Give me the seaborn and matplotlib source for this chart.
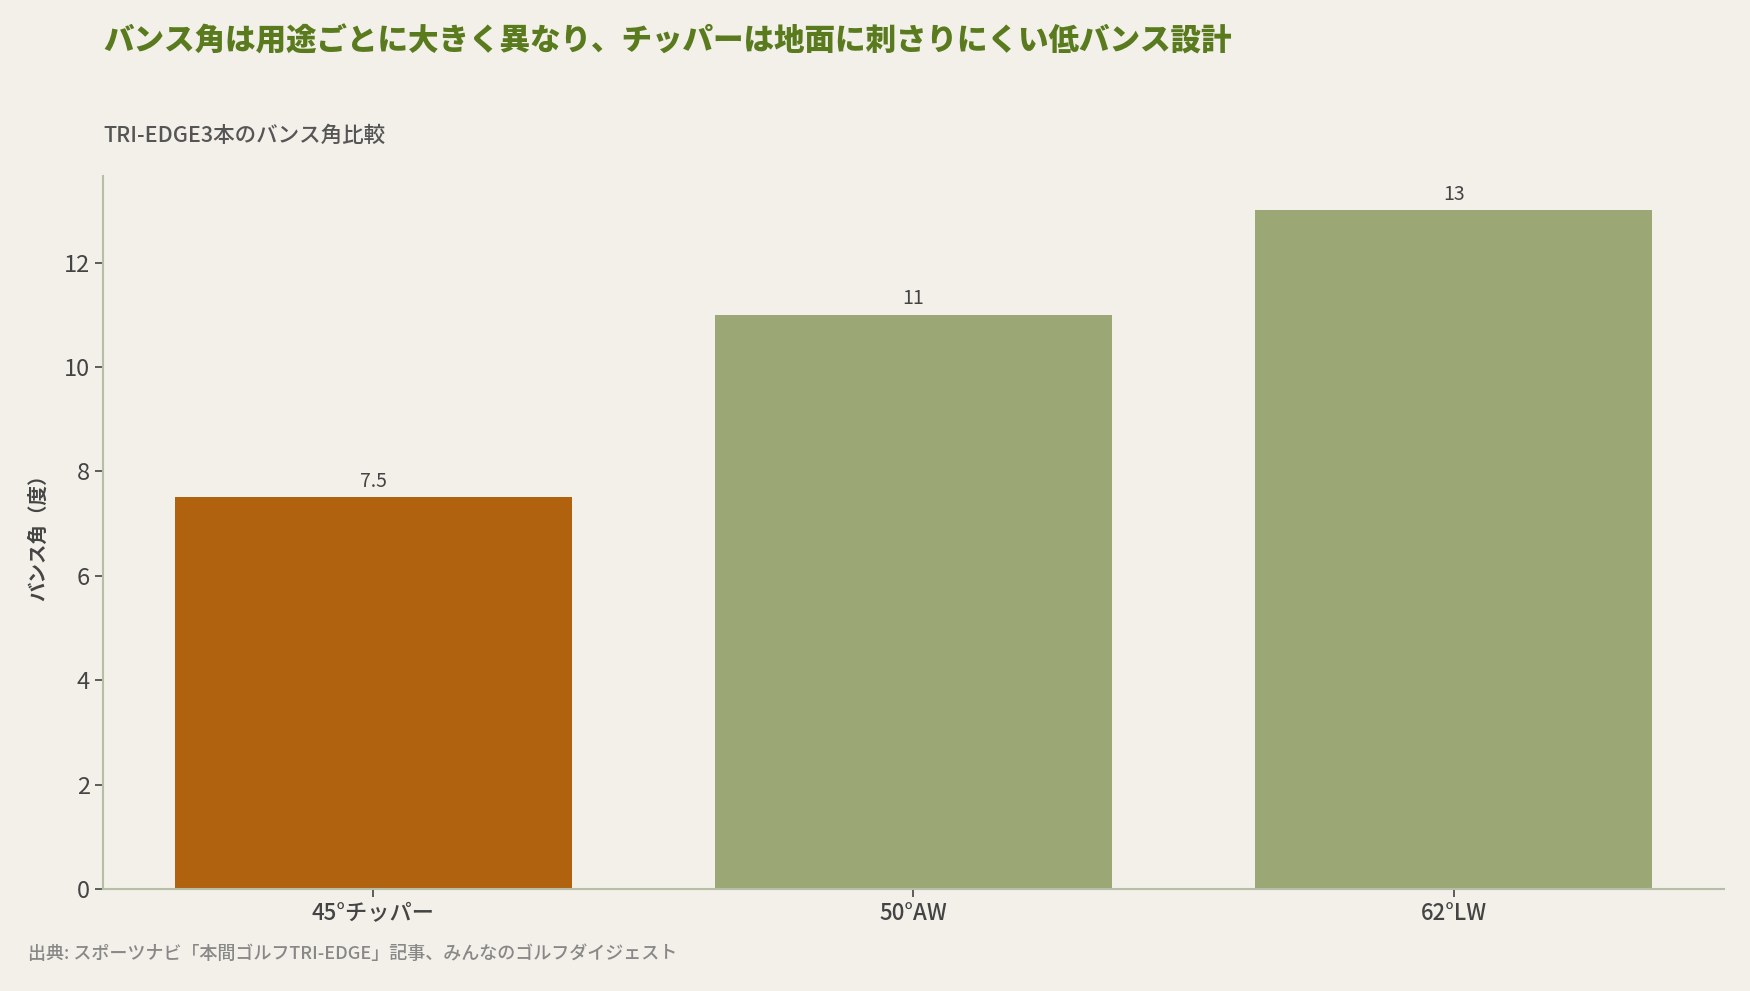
import pandas as pd
import matplotlib.pyplot as plt
import seaborn as sns

clubs = ["45°チッパー", "50°AW", "62°LW"]
bounce = [7.5, 11, 13]
bar_colors = ["#b0620f", "#9ba876", "#9ba876"]

title = "バンス角は用途ごとに大きく異なり、チッパーは地面に刺さりにくい低バンス設計"
subtitle = "TRI-EDGE3本のバンス角比較"
ylabel = "バンス角（度）"
source = "出典: スポーツナビ「本間ゴルフTRI-EDGE」記事、みんなのゴルフダイジェスト"

bg = "#f2f0e9"

sns.set_theme(style="white")
plt.rcParams['font.family'] = ['Noto Sans CJK JP', 'DejaVu Sans']

df = pd.DataFrame({"club": clubs, "bounce": bounce})

fig, ax = plt.subplots(figsize=(17.5, 9.91), dpi=100)
fig.patch.set_facecolor(bg)
ax.set_facecolor(bg)
fig.subplots_adjust(left=0.059, right=0.985, bottom=0.103, top=0.822)

sns.barplot(data=df, x="club", y="bounce", hue="club", palette=bar_colors,
            legend=False, width=0.735, saturation=1, linewidth=0, ax=ax)

for c in ax.containers:
    ax.bar_label(c, fmt="%g", padding=4, fontsize=14, color="#444444")

ax.set_ylim(0, 13.65)
ax.set_xlim(-0.5, 2.5)
ax.set_yticks([0, 2, 4, 6, 8, 10, 12])
ax.set_xlabel("")
ax.set_ylabel(ylabel, fontsize=14, fontweight="bold", color="#444444")
ax.yaxis.set_label_coords(-0.034, 0.5)

sns.despine(ax=ax)
for s in ["left", "bottom"]:
    ax.spines[s].set_color("#b5bfa6")
    ax.spines[s].set_linewidth(1.5)

ax.tick_params(axis="y", labelsize=17, colors="#444444", length=6, width=1.2, left=True)
ax.tick_params(axis="x", labelsize=16, colors="#444444", length=6, width=1.2, bottom=True)
for lab in ax.get_xticklabels():
    lab.set_fontweight("medium")

fig.text(0.059, 0.959, title, fontsize=22, fontweight="heavy", color="#5a7a1e", va="center")
fig.text(0.059, 0.863, subtitle, fontsize=15.5, fontweight="medium", color="#555555", va="center")
fig.text(0.016, 0.037, source, fontsize=13, fontweight="medium", color="#888888", va="center")

plt.savefig("out.png", dpi=100, facecolor=bg)
